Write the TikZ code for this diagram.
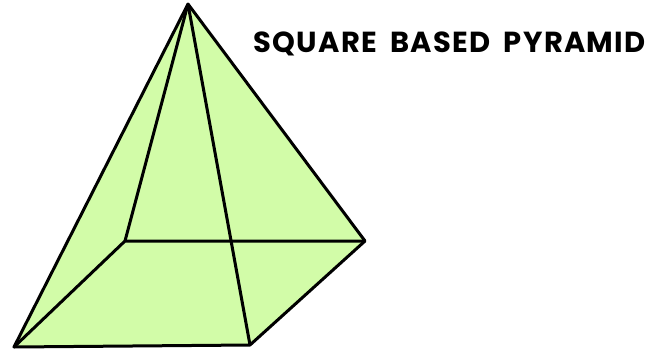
\documentclass[tikz,border=0pt]{standalone}
\usepackage{fontspec}
\setmainfont{Poppins}[LetterSpace=4.5]
\definecolor{facegreen}{HTML}{D2FCA8}
\begin{document}
\begin{tikzpicture}[x=1pt,y=-1pt,line width=3pt,line join=round,font=\fontsize{29}{32}\selectfont\bfseries]
\useasboundingbox (0,0) rectangle (667,351);
\coordinate (T) at (188,4);
\coordinate (A) at (14,347);
\coordinate (B) at (250,345);
\coordinate (C) at (365,241);
\coordinate (D) at (125,241);
\fill[facegreen] (T)--(A)--(B)--(C)--cycle;
\draw (T)--(A)--(B)--(C)--cycle;
\draw (T)--(D);
\draw (T)--(B);
\draw (A)--(D)--(C);
\node[anchor=base west,inner sep=0pt] (title) at (252,52) {SQUARE\hspace{.2em} BASED\hspace{.2em} PYRAMID};
\end{tikzpicture}
\end{document}
